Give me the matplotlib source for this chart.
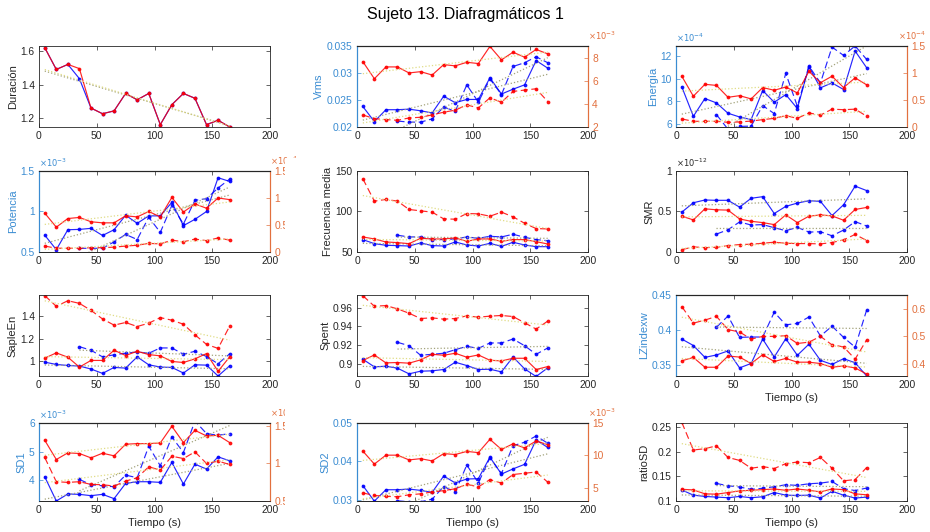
import numpy as np
import matplotlib
matplotlib.use("Agg")
import matplotlib.pyplot as plt
from matplotlib.patches import Rectangle

plt.rcParams['font.family'] = ['Liberation Sans', 'DejaVu Sans']

# Window centres (s); the dashed series start at the fourth window
tiempo = [5, 15, 25, 35, 45, 55, 65, 75, 85, 95, 105, 115, 125, 135, 145, 155, 165]
tiempo_dash = tiempo[3:]

# ---- Duración ----
dur_azul = [1.62, 1.49, 1.52, 1.435, 1.26, 1.226, 1.243, 1.347, 1.309, 1.347, 1.161, 1.28, 1.347, 1.318, 1.161, 1.187, 1.147]
dur_rojo = [1.62, 1.49, 1.52, 1.495, 1.26, 1.226, 1.243, 1.347, 1.309, 1.347, 1.161, 1.28, 1.347, 1.318, 1.161, 1.187, 1.147]

# ---- Vrms (azul: eje izq., rojo: eje der. x1e-3) ----
vrms_azul = [0.0238, 0.021, 0.0232, 0.0232, 0.0233, 0.0230, 0.0226, 0.0257, 0.0245, 0.0251, 0.0251, 0.0291, 0.0261, 0.0270, 0.0278, 0.0323, 0.0309]
vrms_azul_d = [0.0211, 0.0209, 0.0209, 0.0215, 0.0237, 0.0229, 0.0278, 0.0246, 0.0289, 0.0260, 0.0312, 0.0319, 0.0330, 0.0319]
vrms_rojo = [7.65, 6.17, 7.19, 7.19, 6.67, 6.78, 6.49, 7.39, 7.28, 7.59, 7.48, 8.96, 7.8, 8.46, 8.03, 8.70, 8.32]
vrms_rojo_d = [3.04, 2.72, 2.64, 2.58, 2.78, 2.84, 3.04, 3.28, 3.45, 3.91, 3.65, 4.52, 4.14, 5.07, 5.19, 5.30, 4.20]

# ---- Energía (x1e-4 ambos ejes) ----
ene_azul = [9.27, 6.65, 8.23, 7.84, 6.92, 6.59, 6.36, 8.94, 7.90, 8.58, 7.34, 11.05, 9.18, 9.62, 9.03, 12.45, 10.96]
ene_azul_d = [6.80, 5.5, 5.75, 5.78, 7.60, 6.89, 10.46, 7.54, 11.11, 9.62, 12.80, 12.06, 12.9, 11.7]
ene_rojo = [0.94, 0.57, 0.79, 0.77, 0.55, 0.58, 0.52, 0.73, 0.68, 0.74, 0.63, 1.03, 0.82, 0.94, 0.73, 0.91, 0.78]
ene_rojo_d = [0.149, 0.105, 0.105, 0.105, 0.087, 0.093, 0.11, 0.136, 0.16, 0.21, 0.16, 0.26, 0.22, 0.33, 0.32, 0.33, 0.20]

# ---- Potencia (izq. x1e-3, der. x1e-4) ----
pot_azul = [0.708, 0.529, 0.775, 0.779, 0.792, 0.704, 0.775, 0.954, 0.854, 0.946, 0.946, 1.113, 0.825, 0.904, 1.0, 1.417, 1.371]
pot_azul_d = [0.546, 0.546, 0.546, 0.625, 0.717, 0.654, 0.929, 0.742, 1.075, 0.846, 1.138, 1.158, 1.29, 1.4]
pot_rojo = [0.72, 0.46, 0.62, 0.64, 0.56, 0.54, 0.54, 0.67, 0.65, 0.75, 0.65, 1.01, 0.74, 0.89, 0.81, 1.0, 0.97]
pot_rojo_d = [0.11, 0.07, 0.07, 0.07, 0.08, 0.08, 0.09, 0.11, 0.125, 0.16, 0.15, 0.22, 0.19, 0.24, 0.21, 0.26, 0.22]

# ---- Frecuencia media ----
fm_azul = [65.3, 60.3, 58.3, 57.9, 57.4, 61.2, 57.9, 57.4, 62.4, 58.7, 57.4, 60.7, 57.0, 62.0, 58.7, 56.6, 56.6]
fm_azul_d = [70.7, 68.6, 68.6, 65.3, 65.3, 66.1, 68.6, 66.9, 69.4, 68.6, 71.9, 68.2, 65.3, 64.0]
fm_rojo = [68.6, 66.1, 62.4, 61.6, 60.3, 66.9, 66.1, 66.1, 67.4, 63.2, 66.1, 66.1, 63.2, 65.3, 65.3, 62.8, 59.9]
fm_rojo_d = [140.5, 112.8, 114.9, 112.8, 102.5, 100.8, 99.2, 90.9, 90.5, 97.5, 97.1, 94.2, 99.2, 93.4, 85.5, 78.9, 78.5]

# ---- SMR (x1e-12) ----
smr_azul = [0.492, 0.608, 0.642, 0.638, 0.638, 0.554, 0.663, 0.683, 0.475, 0.563, 0.604, 0.633, 0.625, 0.45, 0.583, 0.813, 0.758]
smr_azul_d = [0.221, 0.275, 0.371, 0.333, 0.338, 0.3, 0.263, 0.304, 0.246, 0.25, 0.2, 0.271, 0.375, 0.321]
smr_rojo = [0.442, 0.396, 0.533, 0.521, 0.517, 0.408, 0.379, 0.363, 0.338, 0.458, 0.363, 0.442, 0.458, 0.446, 0.392, 0.525, 0.55]
smr_rojo_d = [0.029, 0.063, 0.054, 0.058, 0.079, 0.092, 0.096, 0.108, 0.121, 0.108, 0.104, 0.104, 0.1, 0.117, 0.15, 0.217, 0.142]

# ---- SapleEn ----
se_azul = [0.994, 0.974, 0.965, 0.96, 0.934, 0.896, 0.948, 0.942, 1.04, 0.971, 0.951, 0.948, 0.899, 0.971, 0.968, 0.873, 0.962]
se_azul_d = [1.129, 1.098, 1.04, 1.058, 1.072, 1.083, 1.072, 1.118, 1.118, 1.063, 1.089, 1.043, 0.98, 1.066]
se_rojo = [1.029, 1.075, 1.037, 0.951, 1.009, 1.009, 1.098, 1.052, 1.089, 1.06, 1.049, 1.0, 0.991, 1.023, 1.069, 0.914, 1.04]
se_rojo_d = [1.575, 1.481, 1.530, 1.507, 1.446, 1.371, 1.317, 1.340, 1.305, 1.334, 1.383, 1.360, 1.325, 1.232, 1.149, 1.114, 1.308]

# ---- Spent ----
sp_azul = [0.9053, 0.8972, 0.8979, 0.8958, 0.8898, 0.8926, 0.893, 0.8944, 0.9021, 0.8986, 0.8944, 0.8947, 0.8919, 0.9077, 0.8951, 0.887, 0.8961]
sp_azul_d = [0.9232, 0.9196, 0.9095, 0.9105, 0.9116, 0.9154, 0.9189, 0.9168, 0.9225, 0.9225, 0.9267, 0.9196, 0.9105, 0.9172]
sp_rojo = [0.9039, 0.9098, 0.9014, 0.9018, 0.9011, 0.9046, 0.9105, 0.9095, 0.9116, 0.9074, 0.9098, 0.9042, 0.9035, 0.9063, 0.9063, 0.8944, 0.8975]
sp_rojo_d = [0.9726, 0.9614, 0.9621, 0.9586, 0.954, 0.9484, 0.9491, 0.9477, 0.9484, 0.9512, 0.9498, 0.9509, 0.9516, 0.9505, 0.9439, 0.9372, 0.9456]

# ---- LZindexw ----
lz_azul = [0.3872, 0.378, 0.3611, 0.3645, 0.3703, 0.3461, 0.3524, 0.3872, 0.3616, 0.3877, 0.364, 0.3799, 0.3568, 0.351, 0.3592, 0.3534, 0.3345]
lz_azul_d = [0.4041, 0.42, 0.3896, 0.3901, 0.3901, 0.4254, 0.4075, 0.4094, 0.4186, 0.3915, 0.4056, 0.3896, 0.3756, 0.4287]
lz_rojo = [0.41, 0.4225, 0.3863, 0.3863, 0.4275, 0.4238, 0.4, 0.4325, 0.4075, 0.4188, 0.405, 0.405, 0.4, 0.3863, 0.3913, 0.3838, 0.3613]
lz_rojo_d = [0.61, 0.5488, 0.56, 0.5738, 0.525, 0.5163, 0.49, 0.5, 0.5, 0.5025, 0.4738, 0.4788, 0.5, 0.4688, 0.4613, 0.4163, 0.4875]

# ---- SD1 (x1e-3 ambos ejes) ----
sd1_azul = [4.116, 3.267, 3.512, 3.5, 3.453, 3.5, 3.349, 3.884, 3.942, 3.942, 3.919, 4.616, 3.86, 4.558, 4.384, 4.814, 4.674]
sd1_azul_d = [4.023, 3.837, 3.802, 3.767, 4.174, 4.081, 5.186, 4.5, 5.512, 4.965, 6.07, 5.628, 5.57, 5.628]
sd1_rojo = [1.31, 1.053, 1.142, 1.133, 1.075, 1.137, 1.102, 1.257, 1.265, 1.265, 1.274, 1.496, 1.279, 1.442, 1.367, 1.376, 1.279]
sd1_rojo_d = [1.08, 0.757, 0.748, 0.757, 0.721, 0.717, 0.699, 0.765, 0.81, 0.956, 0.912, 1.097, 1.066, 1.155, 1.0, 1.031, 0.987]

# ---- SD2 (der. x1e-3) ----
sd2_azul = [0.03373, 0.02966, 0.03263, 0.03263, 0.0328, 0.03246, 0.03195, 0.03619, 0.03441, 0.03542, 0.03551, 0.0411, 0.0367, 0.03805, 0.03924, 0.04559, 0.04364]
sd2_azul_d = [0.02975, 0.0295, 0.0295, 0.03017, 0.03347, 0.03203, 0.03907, 0.03441, 0.04093, 0.03686, 0.04407, 0.045, 0.04661, 0.04475]
sd2_rojo = [10.68, 8.68, 10.05, 10.05, 9.32, 9.51, 9.17, 10.29, 10.15, 10.63, 10.44, 12.49, 10.93, 11.8, 11.17, 12.24, 11.66]
sd2_rojo_d = [4.24, 3.85, 3.71, 3.66, 3.95, 4.1, 4.39, 4.59, 4.88, 5.56, 5.17, 6.29, 5.76, 7.07, 7.27, 7.46, 5.9]

# ---- ratioSD ----
rsd_azul = [0.1224, 0.1118, 0.1092, 0.1079, 0.1066, 0.1092, 0.1066, 0.1086, 0.1171, 0.1118, 0.1112, 0.1118, 0.1059, 0.1197, 0.1118, 0.1059, 0.1079]
rsd_azul_d = [0.1355, 0.1309, 0.1283, 0.1237, 0.1257, 0.1289, 0.1329, 0.1316, 0.1349, 0.1362, 0.1395, 0.125, 0.1211, 0.1263]
rsd_rojo = [0.1237, 0.1224, 0.1145, 0.1138, 0.1171, 0.1204, 0.1217, 0.123, 0.1243, 0.1217, 0.1243, 0.1217, 0.1184, 0.1243, 0.123, 0.1145, 0.1125]
rsd_rojo_d = [0.2592, 0.2033, 0.2059, 0.2118, 0.1882, 0.1822, 0.1664, 0.1697, 0.1658, 0.1757, 0.1789, 0.1776, 0.1882, 0.1664, 0.1408, 0.1434, 0.1678]

GREY = '#262626'
AX_BLUE = '#3A8CD2'
AX_ORANGE = '#E2703E'
LINE_BLUE = '#0000FF'
LINE_RED = '#FF0000'
TREND_BLUE = '#A3A37C'
TREND_RED = '#E0DC86'
FS = 7.4        # tick labels
FS_LABEL = 8.0  # axis labels
FS_EXP = 6.0    # axis multipliers

fig = plt.figure(figsize=(9.3, 5.32), dpi=100)
fig.text(0.5, 0.972, 'Sujeto 13. Diafragmáticos 1', ha='center', va='center',
         fontsize=11.5, color='black')

lefts = [0.0419, 0.3839, 0.7269]
bottoms = [0.7613, 0.5263, 0.2932, 0.0583]
heights = [0.1523, 0.1523, 0.1523, 0.1466]
WIDTH = 0.2485


def fmt(v):
    return ('%g' % v)


def series(ax, x, y, color, dashed, trend_color):
    x = np.asarray(x, float)
    y = np.asarray(y, float)
    ls = (0, (6, 3)) if dashed else '-'
    ax.plot(x, y, color=color, lw=0.85, ls=ls, marker='.', ms=3.5, alpha=0.85)
    coef = np.polyfit(x, y, 1)
    ends = x[[0, -1]]
    ax.plot(ends, np.polyval(coef, ends), color=trend_color, lw=0.9, ls=':')


def style_x(ax, xlabel):
    ax.set_xlim(0, 200)
    ax.set_xticks([0, 50, 100, 150, 200])
    ax.set_xticklabels([fmt(v) for v in [0, 50, 100, 150, 200]])
    ax.tick_params(axis='x', direction='in', length=3, width=0.5, colors=GREY,
                   labelsize=FS, top=True, pad=3)
    if xlabel:
        ax.set_xlabel('Tiempo (s)', fontsize=FS_LABEL, color=GREY, labelpad=2)


def panel(row, col, ylabel, b, bd, r, rd, ylim, yticks, exp_left=None,
          right=None, xlabel=False):
    ax = fig.add_axes([lefts[col], bottoms[row], WIDTH, heights[row]])
    style_x(ax, xlabel)
    if right is None:
        if b is not None:
            series(ax, tiempo, b, LINE_BLUE, False, TREND_BLUE)
        if bd is not None:
            series(ax, tiempo_dash, bd, LINE_BLUE, True, TREND_BLUE)
        if r is not None:
            series(ax, tiempo, r, LINE_RED, False, TREND_RED)
        if rd is not None:
            series(ax, tiempo, rd, LINE_RED, True, TREND_RED)
        ax.set_ylim(*ylim)
        ax.set_yticks(yticks)
        ax.set_yticklabels([fmt(v) for v in yticks])
        ax.tick_params(axis='y', direction='in', length=3, width=0.5,
                       colors=GREY, labelsize=FS, right=True, pad=3)
        for s in ax.spines.values():
            s.set_color(GREY)
            s.set_linewidth(0.6)
        ax.set_ylabel(ylabel, fontsize=FS_LABEL, color=GREY, labelpad=2)
        if exp_left is not None:
            ax.text(0.0, 1.025, r'$\times10^{%d}$' % exp_left, transform=ax.transAxes,
                    ha='left', va='bottom', fontsize=FS_EXP, color=GREY)
        return ax

    # two y-axes: blue series on the left, red series on the right
    series(ax, tiempo, b, LINE_BLUE, False, TREND_BLUE)
    series(ax, tiempo_dash, bd, LINE_BLUE, True, TREND_BLUE)
    ax.set_ylim(*ylim)
    ax.set_yticks(yticks)
    ax.set_yticklabels([fmt(v) for v in yticks])
    ax.tick_params(axis='y', direction='in', length=3, width=0.5,
                   colors=AX_BLUE, labelsize=FS, right=False, pad=3)
    ax.set_ylabel(ylabel, fontsize=FS_LABEL, color=AX_BLUE, labelpad=2)

    ax2 = ax.twinx()
    series(ax2, tiempo, r, LINE_RED, False, TREND_RED)
    series(ax2, tiempo, rd, LINE_RED, True, TREND_RED)
    rylim, rticks, rexp = right
    ax2.set_ylim(*rylim)
    ax2.set_yticks(rticks)
    ax2.set_yticklabels([fmt(v) for v in rticks])
    ax2.tick_params(axis='y', direction='in', length=3, width=0.5,
                    colors=AX_ORANGE, labelsize=FS, pad=3)
    for a in (ax, ax2):
        a.spines['top'].set_color(GREY)
        a.spines['bottom'].set_color(GREY)
        a.spines['top'].set_linewidth(0.8)
        a.spines['bottom'].set_linewidth(0.6)
        a.spines['left'].set_color(AX_BLUE)
        a.spines['right'].set_color(AX_ORANGE)
        a.spines['left'].set_linewidth(0.8)
        a.spines['right'].set_linewidth(0.8)
    if exp_left is not None:
        ax.text(0.0, 1.025, r'$\times10^{%d}$' % exp_left, transform=ax.transAxes,
                ha='left', va='bottom', fontsize=FS_EXP, color=AX_BLUE)
    if rexp is not None:
        label = r'$\times10^{%d}$' % rexp
        if col == 2:
            # last column: right-align against the figure edge
            pos = ax2.get_position()
            fig.text(0.996, pos.y1 + 0.045 * pos.height, label, ha='right',
                     va='bottom', fontsize=FS_EXP, color=AX_ORANGE)
        else:
            ax2.text(1.0, 1.045, label, transform=ax2.transAxes,
                     ha='left', va='bottom', fontsize=FS_EXP, color=AX_ORANGE)
    return ax


# Row 1
panel(0, 0, 'Duración', dur_azul, None, dur_rojo, None, (1.147, 1.63), [1.2, 1.4, 1.6])
panel(0, 1, 'Vrms', vrms_azul, vrms_azul_d, vrms_rojo, vrms_rojo_d,
      (0.02, 0.035), [0.02, 0.025, 0.03, 0.035],
      right=((2, 9), [2, 4, 6, 8], -3))
panel(0, 2, 'Energía', ene_azul, ene_azul_d, ene_rojo, ene_rojo_d,
      (5.7, 12.9), [6, 8, 10, 12], exp_left=-4,
      right=((0, 1.5), [0, 0.5, 1, 1.5], -4))

# Row 2
panel(1, 0, 'Potencia', pot_azul, pot_azul_d, pot_rojo, pot_rojo_d,
      (0.5, 1.5), [0.5, 1, 1.5], exp_left=-3,
      right=((0, 1.5), [0, 0.5, 1, 1.5], -4))
panel(1, 1, 'Frecuencia media', fm_azul, fm_azul_d, fm_rojo, fm_rojo_d,
      (50, 150), [50, 100, 150])
panel(1, 2, 'SMR', smr_azul, smr_azul_d, smr_rojo, smr_rojo_d,
      (0, 1), [0, 0.5, 1], exp_left=-12)

# Row 3
panel(2, 0, 'SapleEn', se_azul, se_azul_d, se_rojo, se_rojo_d,
      (0.873, 1.58), [1, 1.2, 1.4])
panel(2, 1, 'Spent', sp_azul, sp_azul_d, sp_rojo, sp_rojo_d,
      (0.8875, 0.9733), [0.9, 0.92, 0.94, 0.96])
panel(2, 2, 'LZindexw', lz_azul, lz_azul_d, lz_rojo, lz_rojo_d,
      (0.3345, 0.45), [0.35, 0.4, 0.45],
      right=((0.354, 0.6525), [0.4, 0.5, 0.6], None), xlabel=True)

# Row 4
panel(3, 0, 'SD1', sd1_azul, sd1_azul_d, sd1_rojo, sd1_rojo_d,
      (3.267, 6.0), [4, 5, 6], exp_left=-3,
      right=((0.5, 1.54), [0.5, 1, 1.5], -3), xlabel=True)
panel(3, 1, 'SD2', sd2_azul, sd2_azul_d, sd2_rojo, sd2_rojo_d,
      (0.0297, 0.05), [0.03, 0.04, 0.05],
      right=((3.0, 15), [5, 10, 15], -3), xlabel=True)
panel(3, 2, 'ratioSD', rsd_azul, rsd_azul_d, rsd_rojo, rsd_rojo_d,
      (0.1, 0.258), [0.1, 0.15, 0.2, 0.25], xlabel=True)

# The neighbouring column's frame hides the far end of the right-axis labels
for y0, y1 in [(158, 258), (400, 505)]:
    fig.add_artist(Rectangle((285 / 930, 1 - y1 / 532), 18 / 930, (y1 - y0) / 532,
                             transform=fig.transFigure, facecolor='white',
                             edgecolor='none', zorder=20))

fig.savefig('out.png', dpi=100, facecolor='white')
